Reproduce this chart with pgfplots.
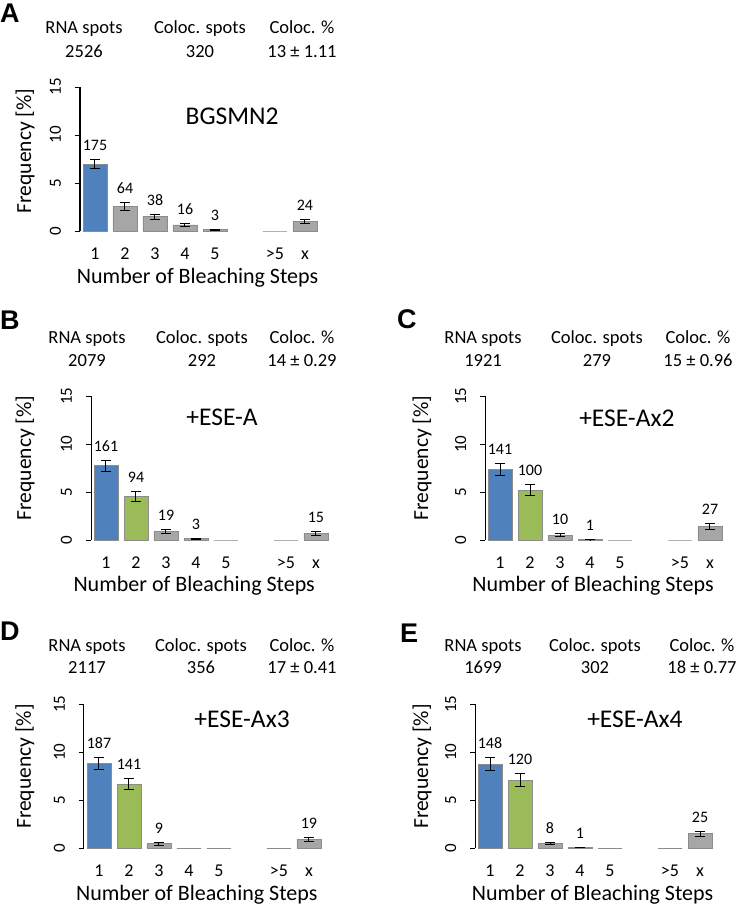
\documentclass[border=0pt]{standalone}
\usepackage{pgfplots}
\pgfplotsset{compat=1.18}
\usepackage{pgfplotstable}
\usepackage{fontspec}
\setmainfont{Carlito}
\newfontfamily\letterfont{Liberation Sans}

\definecolor{cblue}{HTML}{4F81BD}
\definecolor{cgreen}{HTML}{9BBB59}
\definecolor{cgray}{HTML}{A6A6A6}
\definecolor{barline}{HTML}{8C8C8C}

% columns: x position, frequency [%], error, count
% ---- A ----
\pgfplotstableread{
x y e n
0 6.93 0.47 175
}\Ab
\pgfplotstableread{
x y e n
1 2.53 0.42 64
2 1.50 0.26 38
3 0.63 0.17 16
4 0.12 0.05 3
7 0.95 0.20 24
}\Ar
\pgfplotstableread{
x y
6 0
}\Az
% ---- B ----
\pgfplotstableread{
x y e n
0 7.74 0.58 161
}\Bb
\pgfplotstableread{
x y e n
1 4.52 0.55 94
}\Bg
\pgfplotstableread{
x y e n
2 0.91 0.22 19
3 0.14 0.05 3
7 0.72 0.20 15
}\Br
\pgfplotstableread{
x y
4 0
6 0
}\Bz
% ---- C ----
\pgfplotstableread{
x y e n
0 7.34 0.62 141
}\Cb
\pgfplotstableread{
x y e n
1 5.21 0.62 100
}\Cg
\pgfplotstableread{
x y e n
2 0.52 0.18 10
3 0.05 0.02 1
7 1.41 0.28 27
}\Cr
\pgfplotstableread{
x y
4 0
6 0
}\Cz
% ---- D ----
\pgfplotstableread{
x y e n
0 8.83 0.62 187
}\Db
\pgfplotstableread{
x y e n
1 6.66 0.58 141
}\Dg
\pgfplotstableread{
x y e n
2 0.43 0.15 9
7 0.90 0.18 19
}\Dr
\pgfplotstableread{
x y
3 0
4 0
6 0
}\Dz
% ---- E ----
\pgfplotstableread{
x y e n
0 8.71 0.68 148
}\Eb
\pgfplotstableread{
x y e n
1 7.06 0.70 120
}\Eg
\pgfplotstableread{
x y e n
2 0.47 0.15 8
3 0.06 0.02 1
7 1.47 0.28 25
}\Er
\pgfplotstableread{
x y
4 0
6 0
}\Ez

\pgfplotsset{
  mybar/.style={ybar, bar width=24pt, bar shift=0pt, draw=barline, line width=0.8pt, fill=#1},
  errs/.style={error bars/.cd, y dir=both, y explicit,
    error bar style={black, line width=1pt},
    error mark options={rotate=90, black, mark size=5pt, line width=1pt}},
  panel/.style={
    scale only axis, width=240pt, height=144pt,
    xmin=-0.5, xmax=7.5, ymin=0, ymax=15,
    axis y line*=left, axis x line*=bottom,
    x axis line style={draw=none},
    y axis line style={black, line width=1pt},
    xtick={0,1,2,3,4,6,7}, xticklabels={1,2,3,4,5,>5,x},
    ytick={0,5,10,15}, yticklabels={0,5,10,15},
    tick align=outside, major tick length=5pt,
    xtick style={draw=none},
    ytick style={black, line width=1pt},
    xticklabel style={font=\fontsize{18}{20}\selectfont, anchor=base},
    xticklabel shift=23pt,
    yticklabel style={font=\fontsize{17}{19}\selectfont, rotate=90, anchor=base},
    yticklabel shift=14pt,
    xlabel={Number of Bleaching Steps},
    xlabel style={font=\fontsize{22}{24}\selectfont, anchor=base},
    ylabel={Frequency [\%]},
    ylabel style={font=\fontsize{21.5}{23}\selectfont, anchor=center},
    clip=false,
  },
}

\newcommand{\bars}[2]{% #1 colour, #2 table
  \addplot[mybar=#1, errs] table[x=x, y=y, y error=e] {#2};
  \addplot[draw=none, mark=none, point meta=explicit symbolic,
    nodes near coords,
    every node near coord/.append style={anchor=base, yshift=9pt, inner sep=0pt, font=\fontsize{16}{18}\selectfont, black}]
    table[x=x, y expr=\thisrow{y}+\thisrow{e}, meta=n] {#2};
}
\newcommand{\zerobars}[1]{%
  \addplot[mybar=cgray] table[x=x, y=y] {#1};
}
\newcommand{\header}[8]{%
  \node[anchor=base, font=\fontsize{18.5}{20}\selectfont] at (#3pt,-#1pt) {RNA spots};
  \node[anchor=base, font=\fontsize{18.5}{20}\selectfont] at (#4pt,-#1pt) {Coloc. spots};
  \node[anchor=base, font=\fontsize{18.5}{20}\selectfont] at (#5pt,-#1pt) {Coloc. \%};
  \node[anchor=base, font=\fontsize{18.5}{20}\selectfont] at (#3pt,-#2pt) {#6};
  \node[anchor=base, font=\fontsize{18.5}{20}\selectfont] at (#4pt,-#2pt) {#7};
  \node[anchor=base, font=\fontsize{18.5}{20}\selectfont] at (#5pt,-#2pt) {#8};
}
\newcommand{\plabel}[3]{\node[anchor=base west, inner sep=0pt, font=\letterfont\bfseries\fontsize{27}{29}\selectfont] at (#1pt,-#2pt) {#3};}

\begin{document}
\begin{tikzpicture}
\useasboundingbox (0,0) rectangle (741pt,-907pt);

% ---------- A ----------
\plabel{0}{23}{A}
\header{34}{57}{84}{200}{302}{2526}{320}{13 ± 1.11}
\begin{axis}[panel, at={(80pt,-231pt)}, anchor=south west,
  xlabel style={at={(axis description cs:0.49,-0.365)}},
  ylabel style={at={(axis description cs:-0.229,0.556)}}]
  \zerobars{\Az}
  \bars{cblue}{\Ab}
  \bars{cgray}{\Ar}
  \node[font=\fontsize{25.5}{27}\selectfont] at (axis cs:4.57,11.9) {BGSMN2};
\end{axis}

% ---------- B ----------
\plabel{0}{329}{B}
\header{343}{366}{87}{202}{302}{2079}{292}{14 ± 0.29}
\begin{axis}[panel, at={(91pt,-540pt)}, anchor=south west,
  xlabel style={at={(axis description cs:0.43,-0.355)}},
  ylabel style={at={(axis description cs:-0.275,0.57)}}]
  \zerobars{\Bz}
  \bars{cblue}{\Bb}
  \bars{cgreen}{\Bg}
  \bars{cgray}{\Br}
  \node[font=\fontsize{25.5}{27}\selectfont] at (axis cs:3.87,12.8) {+ESE-A};
\end{axis}

% ---------- C ----------
\plabel{397}{328}{C}
\header{343}{366}{483}{597}{698}{1921}{279}{15 ± 0.96}
\begin{axis}[panel, at={(485pt,-540pt)}, anchor=south west,
  xlabel style={at={(axis description cs:0.45,-0.355)}},
  ylabel style={at={(axis description cs:-0.2625,0.57)}}]
  \zerobars{\Cz}
  \bars{cblue}{\Cb}
  \bars{cgreen}{\Cg}
  \bars{cgray}{\Cr}
  \node[font=\fontsize{25.5}{27}\selectfont] at (axis cs:4.23,12.7) {+ESE-Ax2};
\end{axis}

% ---------- D ----------
\plabel{0}{640}{D}
\header{651}{673}{87}{201}{302}{2117}{356}{17 ± 0.41}
\begin{axis}[panel, at={(84pt,-848pt)}, anchor=south west,
  xlabel style={at={(axis description cs:0.47,-0.365)}},
  ylabel style={at={(axis description cs:-0.246,0.566)}}]
  \zerobars{\Dz}
  \bars{cblue}{\Db}
  \bars{cgreen}{\Dg}
  \bars{cgray}{\Dr}
  \node[font=\fontsize{25.5}{27}\selectfont] at (axis cs:4.77,13.4) {+ESE-Ax3};
\end{axis}

% ---------- E ----------
\plabel{400}{642}{E}
\header{651}{673}{483}{595}{702}{1699}{302}{18 ± 0.77}
\begin{axis}[panel, at={(475pt,-848pt)}, anchor=south west,
  xlabel style={at={(axis description cs:0.49,-0.365)}},
  ylabel style={at={(axis description cs:-0.22,0.566)}}]
  \zerobars{\Ez}
  \bars{cblue}{\Eb}
  \bars{cgreen}{\Eg}
  \bars{cgray}{\Er}
  \node[font=\fontsize{25.5}{27}\selectfont] at (axis cs:4.83,13.4) {+ESE-Ax4};
\end{axis}
\end{tikzpicture}
\end{document}
